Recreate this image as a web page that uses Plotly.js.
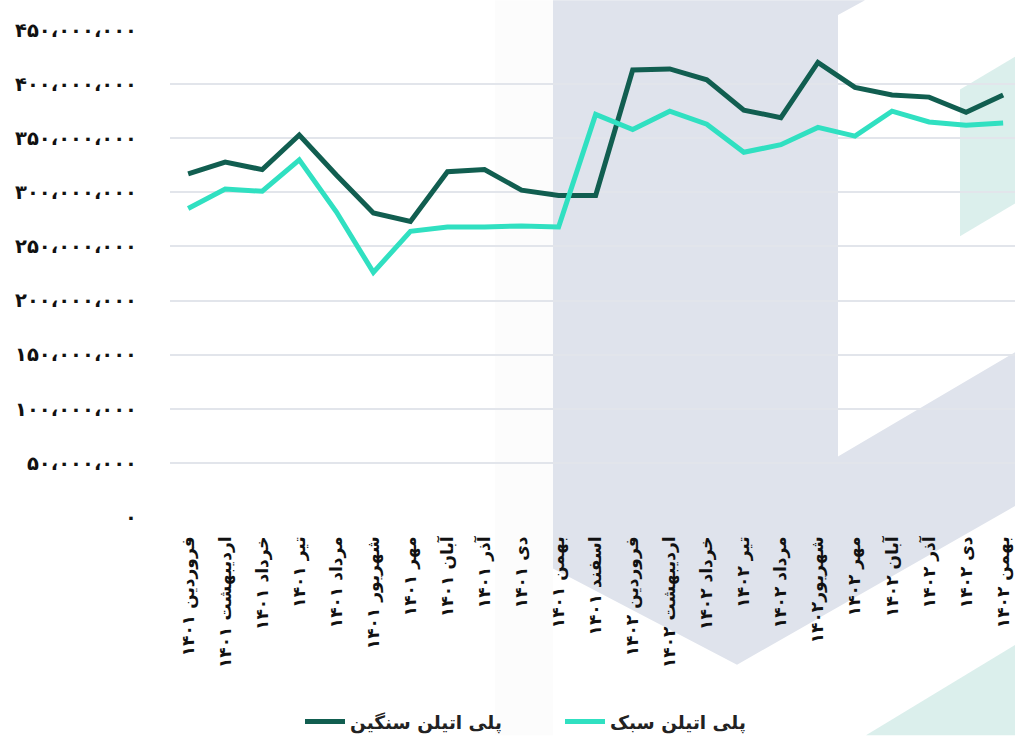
<!DOCTYPE html>
<html>
<head>
<meta charset="utf-8">
<script src="https://cdn.plot.ly/plotly-3.0.1.min.js"></script>
<style>html,body{margin:0;padding:0;background:#fff;}#chart{width:1015px;height:741px;}</style>
</head>
<body>
<div id="chart"></div>
<script>
const months = [
  "فروردین ۱۴۰۱","اردیبهشت ۱۴۰۱","خرداد ۱۴۰۱","تیر ۱۴۰۱","مرداد ۱۴۰۱","شهریور ۱۴۰۱",
  "مهر ۱۴۰۱","آبان ۱۴۰۱","آذر ۱۴۰۱","دی ۱۴۰۱","بهمن ۱۴۰۱","اسفند ۱۴۰۱",
  "فروردین ۱۴۰۲","اردیبهشت ۱۴۰۲","خرداد ۱۴۰۲","تیر ۱۴۰۲","مرداد ۱۴۰۲","شهریور۱۴۰۲",
  "مهر ۱۴۰۲","آبان ۱۴۰۲","آذر ۱۴۰۲","دی ۱۴۰۲","بهمن ۱۴۰۲"
];
const heavy = [317,328,321,353,316,281,273,319,321,302,297,297,413,414,404,376,369,420,397,390,388,374,390].map(v=>v*1e6);
const light = [285,303,301,330,282,226,264,268,268,269,268,372,358,375,363,337,344,360,352,375,365,362,364].map(v=>v*1e6);
const heavyName = "پلی اتیلن سنگین";
const lightName = "پلی اتیلن سبک";
const yTickVals = [0,50e6,100e6,150e6,200e6,250e6,300e6,350e6,400e6,450e6];
const yTickText = ["۰","۵۰،۰۰۰،۰۰۰","۱۰۰،۰۰۰،۰۰۰","۱۵۰،۰۰۰،۰۰۰","۲۰۰،۰۰۰،۰۰۰","۲۵۰،۰۰۰،۰۰۰","۳۰۰،۰۰۰،۰۰۰","۳۵۰،۰۰۰،۰۰۰","۴۰۰،۰۰۰،۰۰۰","۴۵۰،۰۰۰،۰۰۰"];

// layout geometry (pixels)
const W = 1015, H = 741, L = 170, T = 30, B = 220;
const pw = W - L, ph = H - T - B;
const px = x => (x - L) / pw;
const py = y => (H - B - y) / ph;
function poly(pts){ return 'M' + pts.map(p => px(p[0]) + ',' + py(p[1])).join('L') + 'Z'; }

const shapes = [
  {type:'path', xref:'paper', yref:'paper', layer:'below', line:{width:0}, fillcolor:'#fcfcfc',
   path: poly([[495,0],[553,0],[553,741],[495,741]])},
  {type:'path', xref:'paper', yref:'paper', layer:'below', line:{width:0}, fillcolor:'#dfe3ec',
   path: poly([[553,0],[865,0],[838,15],[838,460],[1015,355],[1015,510],[737,670],[553,573]])},
  {type:'path', xref:'paper', yref:'paper', layer:'below', line:{width:0}, fillcolor:'#dbefec',
   path: poly([[960,90],[1015,57],[1015,205],[960,238]])},
  {type:'path', xref:'paper', yref:'paper', layer:'below', line:{width:0}, fillcolor:'#dbefec',
   path: poly([[866,741],[1015,650],[1015,741]])}
];

const font = "DejaVu Sans, sans-serif";
const data = [
  {x: months, y: heavy, name: heavyName, type:'scatter', mode:'lines',
   line:{color:'#115e50', width:5}},
  {x: months, y: light, name: lightName, type:'scatter', mode:'lines',
   line:{color:'#30e0c1', width:5}}
];
const layout = {
  width: W, height: H,
  margin:{l:L, r:0, t:T, b:B},
  paper_bgcolor:'rgba(0,0,0,0)', plot_bgcolor:'rgba(0,0,0,0)',
  showlegend:true,
  hovermode:false,
  font:{family:font, color:'#222'},
  xaxis:{
    type:'category', range:[-0.49, 22.32], tickangle:-90,
    showgrid:false, zeroline:false, showline:false, ticks:'',
    tickfont:{family:font, size:17, color:'#111', weight:'bold'},
    ticklabelstandoff: 15, automargin:false
  },
  yaxis:{
    range:[0, 450e6], tickvals:yTickVals, ticktext:yTickText,
    showgrid:true, gridcolor:'#e2e5eb', gridwidth:2, zeroline:false, showline:false, ticks:'',
    tickfont:{family:font, size:19.5, color:'#111', weight:'bold'},
    ticklabelstandoff: 32, automargin:false
  },
  legend:{orientation:'h', x:px(300), xanchor:'left', y:py(728), yanchor:'middle',
    font:{family:font, size:18.5, color:'#222', weight:'bold'}, itemwidth:40, traceorder:'normal',
    entrywidth:205, bgcolor:'rgba(0,0,0,0)'},
  shapes: shapes
};
Plotly.newPlot('chart', data, layout, {displayModeBar:false, staticPlot:true});
</script>
</body>
</html>
